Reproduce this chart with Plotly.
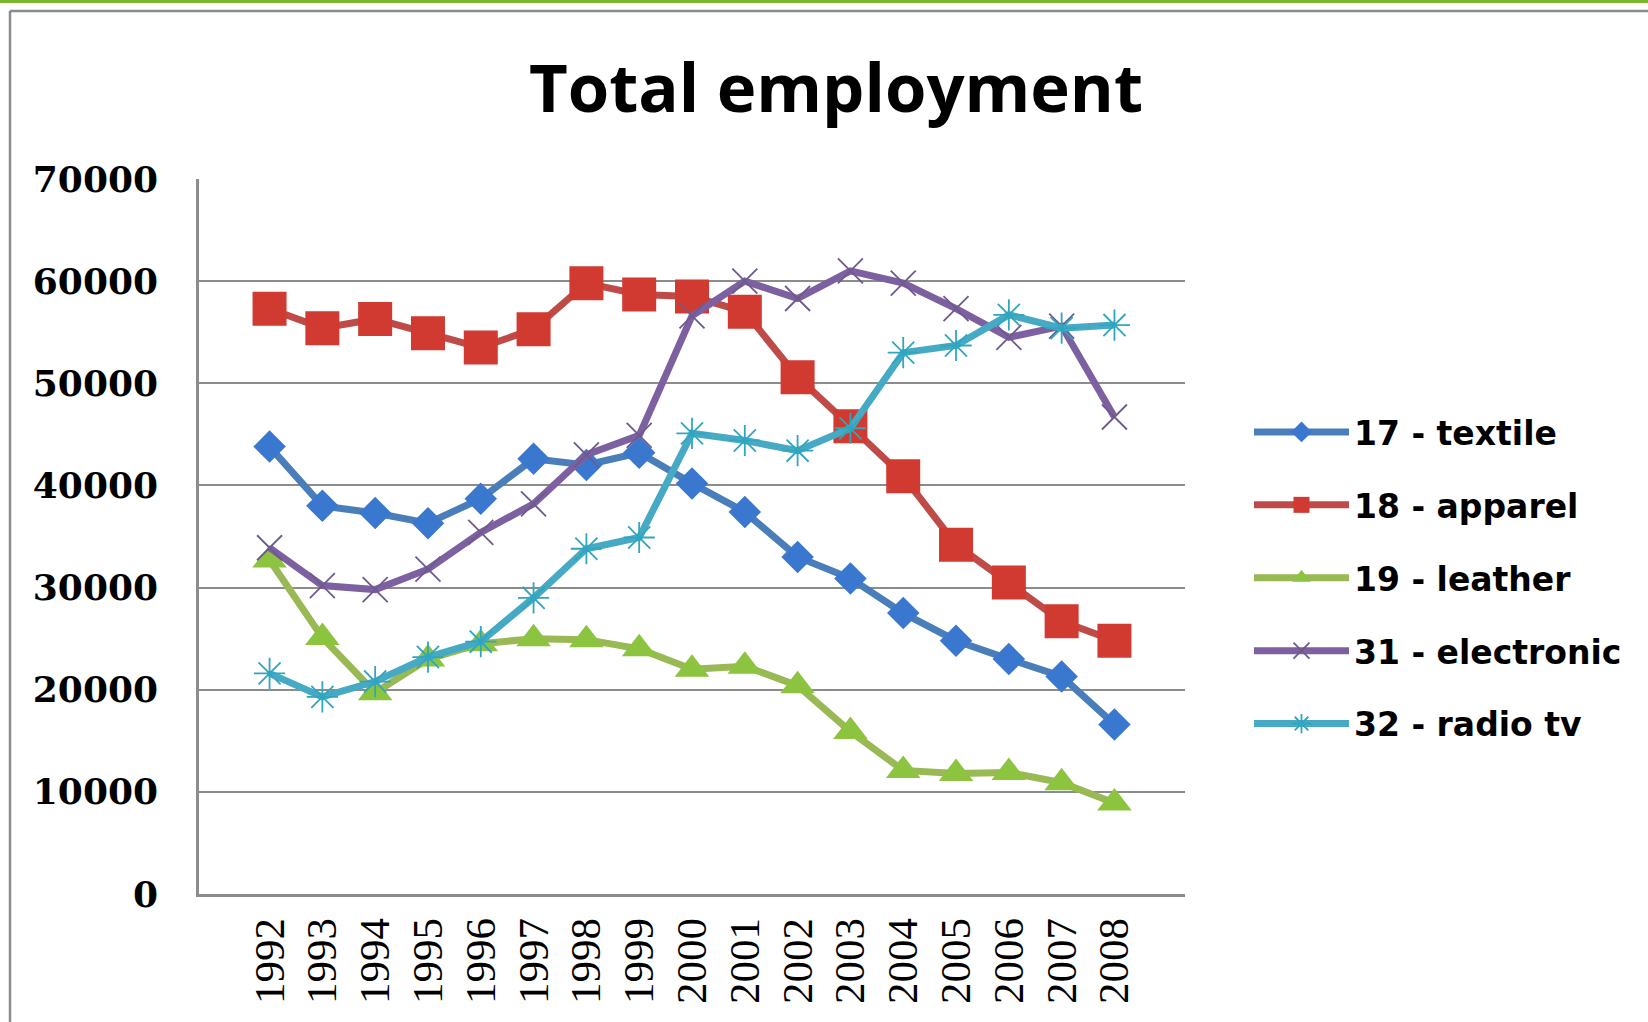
import plotly.graph_objects as go

years = [str(y) for y in range(1992, 2009)]

textile = [43800, 38000, 37300, 36300, 38700, 42600, 42000, 43200, 40200,
           37400, 33000, 30900, 27500, 24800, 23000, 21300, 16600]
apparel = [57300, 55400, 56300, 54900, 53500, 55300, 59800, 58700, 58500,
           57000, 50600, 45800, 40900, 34200, 30500, 26700, 24800]
leather = [32700, 25100, 19700, 23000, 24500, 25000, 24900, 24000, 22000,
           22300, 20400, 15900, 12100, 11800, 11900, 10900, 8900]
electronic = [33900, 30200, 29800, 31800, 35400, 38200, 43000, 44900, 56600,
              60000, 58300, 61000, 59800, 57300, 54500, 55600, 46700]
radio_tv = [21600, 19300, 20800, 23200, 24700, 29000, 33800, 34900, 45100,
            44400, 43400, 45600, 53000, 53700, 56700, 55400, 55700]

series_names = ["17 - textile", "18 - apparel", "19 - leather",
                "31 - electronic", "32 - radio tv"]
y_ticks = [0, 10000, 20000, 30000, 40000, 50000, 60000, 70000]

W, H = 1648, 1022
L, R, T, B = 199, 1185, 179, 894

styles = [
    dict(line="#4A7EBB", marker="#3A78CF", symbol="diamond", size=25),
    dict(line="#BE4B48", marker="#D03A30", symbol="square", size=34),
    dict(line="#98B954", marker="#8DC43F", symbol="triangle-up", size=30),
    dict(line="#7D60A0", marker="#6E5A8E", symbol="x-thin-open", size=25),
    dict(line="#46AAC5", marker="#2FA6C0", symbol="asterisk-open", size=26),
]
data = [textile, apparel, leather, electronic, radio_tv]

fig = go.Figure()
for name, vals, st in zip(series_names, data, styles):
    open_sym = st["symbol"].endswith("open")
    fig.add_trace(go.Scatter(
        x=years, y=vals, name=name, mode="lines+markers",
        legendgroup=name,
        line=dict(color=st["line"], width=7),
        marker=dict(symbol=st["symbol"], size=st["size"], color=st["marker"],
                    line=dict(width=1.8 if open_sym else 0, color=st["marker"])),
    ))

pw = R - L
ph = B - T
def px_x(p):
    return (p - L) / pw
def px_y(p):
    return (B - p) / ph

shapes = [
    # green top bar
    dict(type="rect", xref="paper", yref="paper", x0=px_x(0), x1=px_x(W),
         y0=px_y(0), y1=px_y(3), fillcolor="#7CB82F", line=dict(width=0), layer="below"),
    # gray frame top
    dict(type="line", xref="paper", yref="paper", x0=px_x(10), x1=px_x(W),
         y0=px_y(11), y1=px_y(11), line=dict(color="#8C8C8C", width=2.5)),
    # gray frame left
    dict(type="line", xref="paper", yref="paper", x0=px_x(10), x1=px_x(10),
         y0=px_y(11), y1=px_y(H), line=dict(color="#8C8C8C", width=2.5)),
]

fig.update_layout(
    width=W, height=H,
    margin=dict(l=L, r=W - R, t=T, b=H - B, pad=0, autoexpand=False),
    paper_bgcolor="white", plot_bgcolor="white",
    title=dict(text="<b>Total employment</b>", xref="container", x=836 / W,
               xanchor="center", yref="container", y=1 - 89 / H, yanchor="middle",
               font=dict(family="Open Sans", size=67, color="black")),
    xaxis=dict(type="category", categoryorder="array", categoryarray=years,
               tickangle=-90, showgrid=False, showline=True,
               linecolor="#8C8C8C", linewidth=2.5, ticks="", ticklabelstandoff=4,
               tickfont=dict(family="Liberation Serif", size=43, color="black")),
    yaxis=dict(range=[0, 70000], tickvals=y_ticks, ticktext=[str(v) for v in y_ticks],
               showgrid=True, gridcolor="#8C8C8C", gridwidth=2, zeroline=False,
               showline=True, linecolor="#8C8C8C", linewidth=2.5, ticks="",
               ticklabelstandoff=31,
               tickfont=dict(family="DejaVu Serif", size=36, color="black", weight="bold")),
    legend=dict(xref="container", yref="container", x=1249 / W, y=1 - 404 / H,
                xanchor="left", yanchor="top", traceorder="grouped",
                tracegroupgap=27, itemwidth=95, bgcolor="rgba(0,0,0,0)",
                font=dict(family="DejaVu Sans", size=33, color="black", weight="bold")),
    shapes=shapes,
    showlegend=True,
)

fig.write_html("out.html", config={"displayModeBar": False},
               post_script="document.body.style.margin='0';")
